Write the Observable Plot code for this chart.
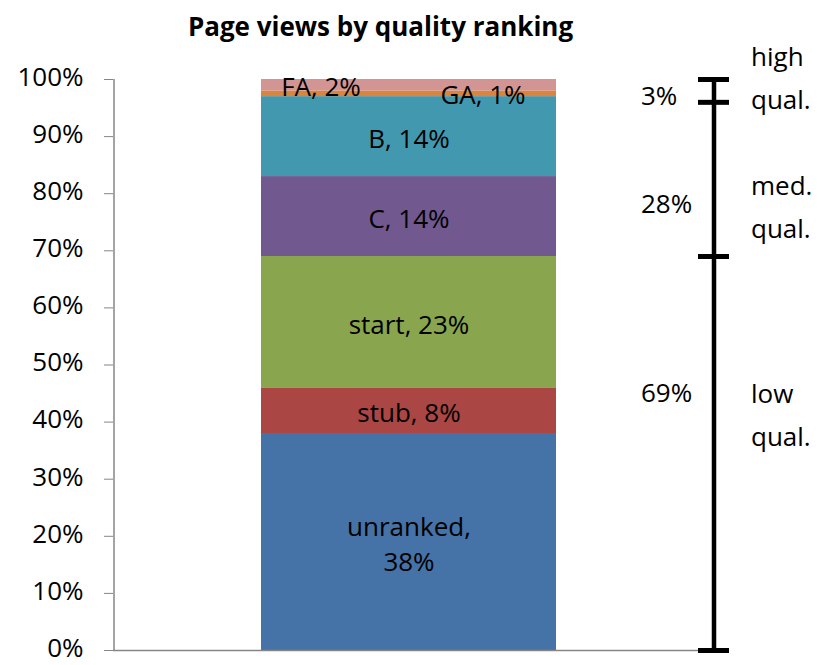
<!DOCTYPE html>
<html>
<head>
<meta charset="utf-8">
<script src="https://cdn.jsdelivr.net/npm/d3@7"></script>
<script src="https://cdn.jsdelivr.net/npm/@observablehq/plot@0.6"></script>
<style>
  html, body { margin: 0; padding: 0; background: white; }
  #chart svg { display: block; }
</style>
</head>
<body>
<div id="chart"></div>
<script>
// ---- data ----
const title = "Page views by quality ranking";
const categories = ["unranked", "stub", "start", "C", "B", "GA", "FA"];
const values = [38, 8, 23, 14, 14, 1, 2];
const yTicks = [0, 10, 20, 30, 40, 50, 60, 70, 80, 90, 100];

// quality bracket
const bracketBreaks = [0, 69, 96, 100];
const groupNames = ["low\nqual.", "med.\nqual.", "high\nqual."];
const groupNameAt = [42.0, 78.4, 101];
const groupShares = ["69%", "28%", "3%"];
const groupShareAt = [45, 78, 97];

// ---- styles ----
const palette = ["#4572A7", "#AA4643", "#89A54E", "#71588F", "#4198AF", "#DB843D", "#D39494"];
const cat = "Page views";
const font = "'Open Sans', 'DejaVu Sans', sans-serif";

// build table
const ends = d3.cumsum(values);
const rows = categories.map((c, i) => ({
  name: c,
  value: values[i],
  y1: ends[i] - values[i],
  y2: ends[i],
  mid: ends[i] - values[i] / 2,
  label: c === "unranked" ? `${c},\n${values[i]}%` : `${c}, ${values[i]}%`
}));
const centered = rows.filter(r => r.name !== "FA" && r.name !== "GA");
const faRow = rows.filter(r => r.name === "FA");
const gaRow = rows.filter(r => r.name === "GA");

const groups = groupNames.map((n, i) => ({name: n, at: groupNameAt[i], share: groupShares[i], shareAt: groupShareAt[i]}));

const chart = Plot.plot({
  width: 817,
  height: 665,
  marginLeft: 113,
  marginRight: 114,
  marginTop: 79,
  marginBottom: 15,
  style: {fontFamily: font, fontSize: "26px", background: "white", color: "black", overflow: "visible"},
  x: {domain: [cat], paddingInner: 0, paddingOuter: 0.5, axis: null},
  y: {domain: [0, 100], axis: null},
  color: {domain: categories, range: palette},
  marks: [
    // bars
    Plot.barY(rows, {x: () => cat, y1: "y1", y2: "y2", fill: "name"}),
    // y axis: tick marks, then labels
    Plot.axisY({ticks: yTicks, tickSize: 9, tickFormat: () => "", stroke: "#868686"}),
    Plot.axisY({ticks: yTicks, tickSize: 0, tickPadding: 30, tickFormat: d => d + "%", fill: "black", fontSize: 26, dy: -2}),
    Plot.ruleX([cat], {x: d => d, y1: 0, y2: 100, dx: -295, stroke: "#868686", strokeWidth: 1.5}),
    Plot.ruleY([0], {stroke: "#868686", strokeWidth: 1.5}),
    // segment labels
    Plot.text(centered, {x: () => cat, y: "mid", text: "label", fill: "black", fontSize: 26, lineHeight: 1.38}),
    Plot.text(faRow, {x: () => cat, y: "mid", text: "label", fill: "black", fontSize: 26, dx: -88, dy: 2}),
    Plot.text(gaRow, {x: () => cat, y: "mid", text: "label", fill: "black", fontSize: 26, dx: 74, dy: 2}),
    // bracket
    Plot.ruleX([cat], {x: d => d, y1: 0, y2: 100, dx: 305, stroke: "black", strokeWidth: 4.5}),
    Plot.tickY(bracketBreaks, {x: () => cat, y: d => d, insetLeft: 132, insetRight: 132, dx: 305, stroke: "black", strokeWidth: 5}),
    Plot.text(groups, {x: () => cat, y: "shareAt", text: "share", textAnchor: "start", dx: 232, fill: "black", fontSize: 26}),
    Plot.text(groups, {x: () => cat, y: "at", text: "name", textAnchor: "start", dx: 342, fill: "black", fontSize: 26, lineHeight: 1.66}),
    // title
    Plot.text([title], {frameAnchor: "top", dx: -28, dy: -62, fontWeight: "bold", fontSize: 26, fill: "black"})
  ]
});
document.getElementById("chart").appendChild(chart);
</script>
</body>
</html>
